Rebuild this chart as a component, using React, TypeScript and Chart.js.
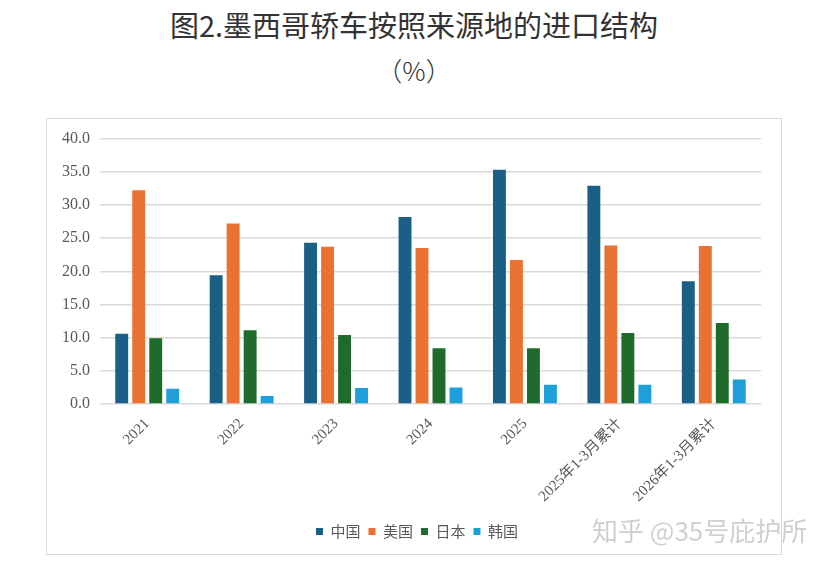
import { useEffect, useRef } from "react";
import Chart from "chart.js/auto";

const categories = ["2021", "2022", "2023", "2024", "2025", "2025年1-3月累计", "2026年1-3月累计"];
const chinaValues = [10.6, 19.4, 24.3, 28.2, 35.3, 32.9, 18.5];
const usValues = [32.2, 27.2, 23.7, 23.5, 21.7, 23.9, 23.8];
const japanValues = [9.9, 11.1, 10.4, 8.4, 8.4, 10.7, 12.2];
const koreaValues = [2.3, 1.2, 2.4, 2.5, 2.9, 2.9, 3.7];
const yTicks = [0, 5, 10, 15, 20, 25, 30, 35, 40];

const serif = "'Liberation Serif', 'Noto Sans CJK SC', serif";
const cjk = "'Noto Sans CJK SC', 'Noto Sans', sans-serif";

// nudge the legend a little to the right, as in the source image
const legendShift = {
  id: "legendShift",
  afterLayout(chart: any) {
    if (chart.legend) {
      chart.legend.left += 13;
      chart.legend.right += 13;
    }
  },
};

export default function App() {
  const chartRef = useRef<HTMLCanvasElement>(null);
  const chartInstance = useRef<Chart | null>(null);

  useEffect(() => {
    document.body.style.margin = "0";
    if (!chartRef.current) return;
    if (chartInstance.current) chartInstance.current.destroy();
    const ctx = chartRef.current.getContext("2d");
    if (!ctx) return;

    const bar = (label: string, data: number[], color: string) => ({
      label,
      data,
      backgroundColor: color,
      borderWidth: 0,
      categoryPercentage: 0.72,
      barPercentage: 0.76,
    });

    chartInstance.current = new Chart(ctx, {
      type: "bar",
      data: {
        labels: categories,
        datasets: [
          bar("中国", chinaValues, "#1b5f85"),
          bar("美国", usValues, "#e97131"),
          bar("日本", japanValues, "#1e6b2b"),
          bar("韩国", koreaValues, "#1f9fd9"),
        ],
      },
      options: {
        animation: false,
        responsive: true,
        maintainAspectRatio: false,
        layout: { padding: { top: 15, right: 20, bottom: 5, left: 0 } },
        plugins: {
          legend: {
            position: "bottom",
            labels: {
              boxWidth: 7,
              boxHeight: 7,
              padding: 8,
              color: "#595959",
              font: { family: cjk, size: 15 },
            },
          },
          tooltip: { enabled: false },
        },
        scales: {
          x: {
            grid: { display: false },
            border: { display: false },
            ticks: {
              minRotation: 45,
              maxRotation: 45,
              color: "#595959",
              font: { family: serif, size: 15 },
              padding: 3,
            },
            afterFit: (scale: any) => {
              scale.height = 112;
            },
          },
          y: {
            min: 0,
            max: 40,
            afterBuildTicks: (scale: any) => {
              scale.ticks = yTicks.map((v) => ({ value: v }));
            },
            grid: { color: "#d9d9d9", lineWidth: 1.5, drawTicks: false },
            border: { display: false },
            ticks: {
              color: "#595959",
              padding: 10,
              font: { family: serif, size: 16 },
              callback: (value) => Number(value).toFixed(1),
            },
            afterFit: (scale: any) => {
              scale.width = 53;
            },
          },
        },
      },
      plugins: [legendShift],
    });

    return () => {
      if (chartInstance.current) {
        chartInstance.current.destroy();
        chartInstance.current = null;
      }
    };
  }, []);

  return (
    <div style={{ position: "relative", width: 828, height: 564, background: "#fff", overflow: "hidden" }}>
      <div
        style={{
          position: "absolute",
          top: 4,
          left: 0,
          width: 828,
          textAlign: "center",
          fontFamily: cjk,
          fontSize: 29,
          color: "#333",
          lineHeight: "40px",
        }}
      >
        图2.墨西哥轿车按照来源地的进口结构
      </div>
      <div
        style={{
          position: "absolute",
          top: 50,
          left: 0,
          width: 828,
          textAlign: "center",
          fontFamily: cjk,
          fontSize: 26,
          fontWeight: 300,
          color: "#333",
          lineHeight: "40px",
        }}
      >
        （%）
      </div>
      <div
        style={{
          position: "absolute",
          left: 46,
          top: 118,
          width: 734,
          height: 435,
          border: "1px solid #d9d9d9",
        }}
      >
        <canvas ref={chartRef}></canvas>
      </div>
      <div
        style={{
          position: "absolute",
          left: 592,
          top: 511,
          fontFamily: cjk,
          fontSize: 26,
          color: "#d0d0d0",
          whiteSpace: "nowrap",
        }}
      >
        知乎 @35号庇护所
      </div>
    </div>
  );
}
